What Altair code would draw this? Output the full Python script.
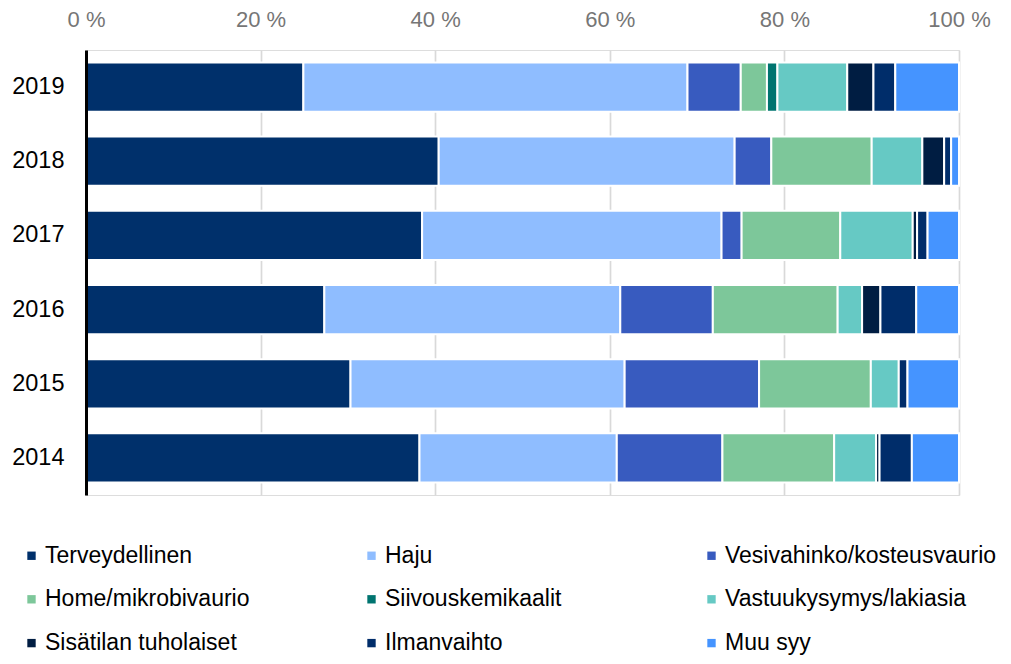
import altair as alt
import pandas as pd

years = ["2019", "2018", "2017", "2016", "2015", "2014"]
categories = [
    "Terveydellinen", "Haju", "Vesivahinko/kosteusvaurio",
    "Home/mikrobivaurio", "Siivouskemikaalit", "Vastuukysymys/lakiasia",
    "Sisätilan tuholaiset", "Ilmanvaihto", "Muu syy",
]
colors = ["#00306B", "#8FBDFF", "#385BBF", "#7DC79A", "#007470",
          "#66C9C4", "#001D42", "#002D6A", "#4594FF"]

# percent shares per category, in the order of `years`
terveydellinen = [24.9, 40.4, 38.5, 27.3, 30.3, 38.2]
haju = [44.0, 33.9, 34.3, 33.9, 31.4, 22.6]
vesivahinko = [6.1, 4.2, 2.3, 10.6, 15.4, 12.1]
home = [3.0, 11.5, 11.3, 14.3, 12.8, 12.8]
siivous = [1.2, 0.0, 0.0, 0.0, 0.0, 0.0]
vastuu = [8.0, 5.8, 8.3, 2.8, 3.2, 4.8]
tuholaiset = [3.0, 2.5, 0.5, 2.1, 0.0, 0.4]
ilmanvaihto = [2.5, 0.8, 1.2, 4.1, 1.0, 3.7]
muu = [7.3, 0.9, 3.6, 4.9, 5.9, 5.4]

series = [terveydellinen, haju, vesivahinko, home, siivous, vastuu,
          tuholaiset, ilmanvaihto, muu]
x_ticks = [0, 20, 40, 60, 80, 100]

rows = []
for ci, (cat, vals) in enumerate(zip(categories, series)):
    for yr, v in zip(years, vals):
        if v > 0:
            rows.append({"Vuosi": yr, "Syy": cat, "Osuus": v, "idx": ci})
df = pd.DataFrame(rows)

FONT = "Liberation Sans"

chart = alt.Chart(df).mark_bar(stroke="white", strokeWidth=2).encode(
    x=alt.X("Osuus:Q", stack="zero",
            scale=alt.Scale(domain=[0, 100], nice=False),
            axis=alt.Axis(orient="top", values=x_ticks, title=None,
                          labelExpr="datum.value + ' %'",
                          labelFlush=False,
                          domain=False, ticks=False, tickSize=0,
                          labelPadding=19, labelFontSize=22,
                          labelColor="#767676", labelFont=FONT,
                          grid=True, gridColor="#D9D9D9", gridWidth=1.7)),
    y=alt.Y("Vuosi:N", sort=years,
            scale=alt.Scale(paddingInner=0.336, paddingOuter=0.167),
            axis=alt.Axis(title=None, ticks=False, tickSize=0,
                          domain=True, domainColor="black", domainWidth=3,
                          zindex=1,
                          labelPadding=22, labelFontSize=23.5,
                          labelColor="black", labelFont=FONT)),
    color=alt.Color("Syy:N",
                    scale=alt.Scale(domain=categories, range=colors),
                    legend=alt.Legend(title=None, orient="none",
                                      direction="horizontal",
                                      legendX=-66, legendY=494,
                                      columns=3, columnPadding=43,
                                      gridAlign="all",
                                      rowPadding=19.8, padding=0,
                                      symbolType="square", symbolSize=70,
                                      symbolStrokeWidth=0, labelOffset=2,
                                      labelFontSize=23, labelColor="black",
                                      labelFont=FONT, labelLimit=0)),
    order=alt.Order("idx:Q", sort="ascending"),
).properties(
    width=873, height=445,
    autosize=alt.AutoSizeParams(type="none"),
    padding={"left": 78, "top": 42, "right": 44, "bottom": 161},
).configure_view(stroke=None).configure(font=FONT)

chart.save("out.html", embed_options={"renderer": "svg", "actions": False})
